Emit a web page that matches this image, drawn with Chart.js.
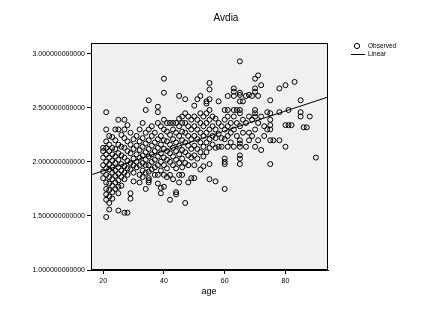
<!DOCTYPE html>
<html><head><meta charset="utf-8">
<script src="https://cdn.jsdelivr.net/npm/chart.js@4.4.0/dist/chart.umd.min.js"></script>
<style>html,body{margin:0;padding:0;background:#fff}</style>
</head><body>
<canvas id="c" width="428" height="320"></canvas>
<script>
const chartTitle = "Avdia";
const xTitle = "age";
const legendLabels = ["Observed", "Linear"];
const yTicks = [1.0, 1.5, 2.0, 2.5, 3.0];
const xTicks = [20, 40, 60, 80];
// observed values grouped by age
const ages = [20,21,22,23,24,25,26,27,28,29,30,31,32,33,34,35,36,37,38,39,40,41,42,43,44,45,46,47,48,49,50,51,52,53,54,55,56,57,58,59,60,61,62,63,64,65,66,67,68,69,70,71,72,73,74,75,76,78,80,81,82,83,85,86,87,88,90];
const avdiaByAge = [
 [2.13,2.10,2.04,1.97,1.91,1.85],
 [2.46,2.30,2.19,2.13,2.07,2.00,1.94,1.88,1.81,1.75,1.70,1.65,1.49],
 [2.24,2.16,2.10,2.04,1.98,1.93,1.86,1.80,1.74,1.68,1.62,1.56],
 [2.23,2.13,2.07,2.01,1.95,1.90,1.84,1.78,1.72,1.66],
 [2.30,2.20,2.12,2.05,1.99,1.92,1.87,1.81,1.75],
 [2.39,2.30,2.16,2.08,2.02,1.95,1.89,1.83,1.77,1.71,1.55],
 [2.25,2.14,2.06,1.98,1.92,1.86,1.78],
 [2.39,2.30,2.22,2.13,2.04,1.96,1.90,1.84,1.53],
 [2.34,2.19,2.10,2.01,1.94,1.88,1.53],
 [2.27,2.16,2.08,1.99,1.93,1.71,1.66],
 [2.21,2.12,2.03,1.97,1.90,1.82],
 [2.24,2.15,2.07,2.00,1.95],
 [2.30,2.19,2.11,2.04,1.97,1.88,1.81],
 [2.36,2.22,2.14,2.06,1.99,1.92,1.86],
 [2.48,2.27,2.17,2.09,2.02,1.97,1.90,1.75],
 [2.57,2.30,2.20,2.12,2.05,1.97,1.91,1.85,1.83,1.81],
 [2.33,2.24,2.15,2.07,2.00,1.93],
 [2.27,2.18,2.10,2.02,1.95,1.88],
 [2.51,2.46,2.36,2.21,2.13,2.05,1.97,1.88,1.80],
 [2.33,2.24,2.16,2.08,2.00,1.92,1.76,1.71],
 [2.77,2.64,2.39,2.30,2.20,2.12,2.04,1.97,1.88,1.77],
 [2.36,2.28,2.19,2.10,2.02,1.94,1.86],
 [2.36,2.25,2.16,2.08,2.00,1.88,1.65],
 [2.36,2.30,2.21,2.13,2.05,1.97,1.84],
 [2.36,2.27,2.18,2.10,2.02,1.94,1.72,1.70],
 [2.61,2.40,2.33,2.24,2.15,2.07,1.99,1.88,1.81],
 [2.42,2.36,2.28,2.20,2.11,2.03,1.95,1.88],
 [2.58,2.45,2.36,2.27,2.18,2.09,1.99,1.62],
 [2.42,2.33,2.24,2.15,2.06,1.97,1.81],
 [2.39,2.30,2.21,2.12,2.04,1.85],
 [2.52,2.42,2.33,2.24,2.15,2.06,1.97,1.85],
 [2.58,2.39,2.30,2.21,2.12,2.03],
 [2.61,2.45,2.36,2.27,2.18,2.09,1.93],
 [2.42,2.33,2.24,2.14,2.05,1.96],
 [2.56,2.54,2.45,2.36,2.27,2.18,2.09],
 [2.73,2.67,2.58,2.48,2.39,2.30,2.21,2.13,1.98,1.84],
 [2.42,2.33,2.24,2.16],
 [2.40,2.30,2.22,2.13,1.82],
 [2.56,2.36,2.26,2.14],
 [2.33,2.22,2.14],
 [2.48,2.39,2.30,2.21,2.03,2.00,1.98,1.75],
 [2.61,2.48,2.42,2.33,2.24,2.14],
 [2.36,2.27,2.18],
 [2.68,2.65,2.61,2.48,2.42,2.30,2.14],
 [2.48,2.36,2.24],
 [2.93,2.64,2.62,2.56,2.48,2.45,2.33,2.20,2.17,2.14,2.06,2.03,1.98],
 [2.56,2.39,2.27],
 [2.61,2.36,2.14],
 [2.62,2.42,2.27,2.20],
 [2.61,2.39,2.24],
 [2.77,2.68,2.65,2.48,2.45,2.42,2.30,2.14],
 [2.80,2.61,2.36,2.20],
 [2.71,2.42,2.11],
 [2.33,2.24],
 [2.46,2.30],
 [2.57,2.45,2.39,2.34,2.30,2.20,1.98],
 [2.20],
 [2.68,2.46,2.20],
 [2.71,2.34,2.14],
 [2.48,2.34],
 [2.34],
 [2.74],
 [2.57,2.46,2.42],
 [2.32],
 [2.32],
 [2.42],
 [2.04]
];
// linear fit line (endpoints at the plot edges)
const fitAges = [16, 94];
const fitValues = [1.88, 2.60];

const observed = [];
ages.forEach((a, i) => avdiaByAge[i].forEach(v => observed.push({x: a, y: v})));
const fitLine = fitAges.map((a, i) => ({x: a, y: fitValues[i]}));

const FONT = "'Liberation Sans', Arial, sans-serif";

const decorPlugin = {
  id: 'decor',
  beforeDraw(chart) {
    const {ctx, chartArea: a} = chart;
    ctx.save();
    ctx.fillStyle = '#f0f0f0';
    ctx.fillRect(a.left, a.top, a.right - a.left, a.bottom - a.top);
    ctx.restore();
  },
  afterDraw(chart) {
    const {ctx, chartArea: a} = chart;
    ctx.save();
    ctx.strokeStyle = '#000';
    ctx.lineWidth = 1;
    ctx.strokeRect(a.left + 0.5, a.top + 0.5, a.right - a.left - 1, a.bottom - a.top - 1);
    ctx.fillStyle = '#000';
    ctx.textBaseline = 'middle';
    ctx.textAlign = 'center';
    ctx.font = '10px ' + FONT;
    ctx.fillText(chartTitle, 226, 18);
    ctx.font = '9px ' + FONT;
    ctx.fillText(xTitle, 209, 292);
    // legend
    ctx.beginPath();
    ctx.arc(357, 46, 2.6, 0, Math.PI * 2);
    ctx.stroke();
    ctx.beginPath();
    ctx.moveTo(351, 54.5);
    ctx.lineTo(365, 54.5);
    ctx.stroke();
    ctx.textAlign = 'left';
    ctx.font = '6.5px ' + FONT;
    ctx.fillText(legendLabels[0], 368, 46.5);
    ctx.fillText(legendLabels[1], 368, 54.5);
    ctx.restore();
  }
};

new Chart(document.getElementById('c'), {
  type: 'scatter',
  data: {
    datasets: [
      {
        label: legendLabels[0],
        data: observed,
        pointRadius: 2.5,
        pointBorderWidth: 1,
        pointBorderColor: '#000',
        pointBackgroundColor: 'rgba(0,0,0,0)',
        pointStyle: 'circle'
      },
      {
        label: legendLabels[1],
        type: 'line',
        data: fitLine,
        borderColor: '#000',
        borderWidth: 1,
        pointRadius: 0,
        fill: false
      }
    ]
  },
  options: {
    responsive: false,
    animation: false,
    events: [],
    layout: {padding: {left: 0, right: 100, top: 43, bottom: 0}},
    plugins: {legend: {display: false}, title: {display: false}, tooltip: {enabled: false}},
    scales: {
      x: {
        type: 'linear',
        min: 16, max: 94,
        afterBuildTicks(s) { s.ticks = xTicks.map(v => ({value: v})); },
        afterFit(s) { s.height = 50; },
        grid: {drawOnChartArea: false, drawTicks: true, tickLength: 4, color: '#000'},
        border: {display: true, color: '#000', width: 1},
        ticks: {color: '#000', font: {family: FONT, size: 7}, padding: 3, maxRotation: 0}
      },
      y: {
        type: 'linear',
        min: 1.0, max: 3.1,
        afterBuildTicks(s) { s.ticks = yTicks.map(v => ({value: v})); },
        afterFit(s) { s.width = 91; },
        grid: {drawOnChartArea: false, drawTicks: true, tickLength: 4, color: '#000'},
        border: {display: true, color: '#000', width: 1},
        ticks: {color: '#000', font: {family: FONT, size: 7}, padding: 2,
          callback: v => Number(v).toFixed(12)}
      }
    }
  },
  plugins: [decorPlugin]
});
</script>
</body></html>
